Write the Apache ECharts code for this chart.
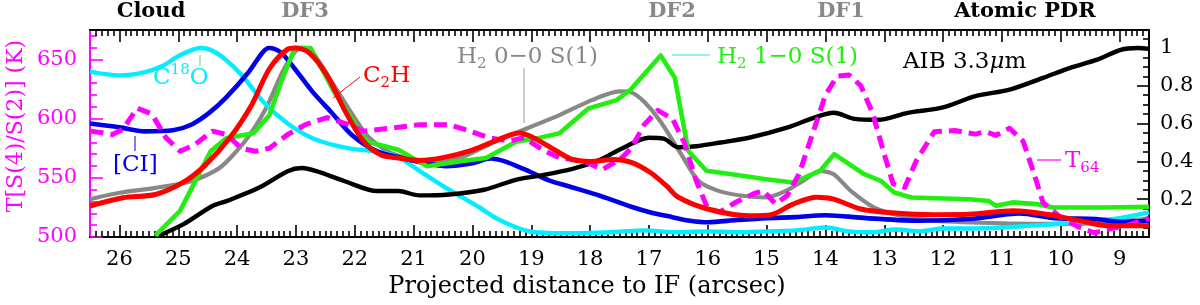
<!DOCTYPE html>
<html><head><meta charset="utf-8">
<script src="https://cdn.jsdelivr.net/npm/echarts@6/dist/echarts.min.js"></script>
<style>html,body{margin:0;padding:0;background:#fff}#c{width:1200px;height:305px}</style>
</head><body><div id="c"></div>
<script>
// ---- tick labels ----
const xTickLabels = [26,25,24,23,22,21,20,19,18,17,16,15,14,13,12,11,10,9];
const leftTickLabels = [500,550,600,650];
const rightTickLabels = [0.2,0.4,0.6,0.8,1];

// ---- series (x in arcsec) ----
const c18oX = [26.5,26.0,25.6,25.27,24.95,24.62,24.45,24.24,23.93,23.54,23.14,22.7,22.12,21.6,21.25,20.9,20.4,19.9,19.6,19.25,19.0,18.5,18.0,17.5,17.1,16.5,16.0,15.5,15.0,14.5,14.0,13.6,13.2,12.8,12.4,12.0,11.5,11.0,10.5,10.0,9.5,9.0,8.5];
const c18oY = [0.875,0.855,0.87,0.905,0.965,1.0,0.99,0.95,0.86,0.71,0.6,0.52,0.47,0.45,0.42,0.35,0.25,0.16,0.1,0.05,0.028,0.02,0.022,0.028,0.035,0.025,0.03,0.025,0.03,0.035,0.05,0.03,0.025,0.04,0.03,0.045,0.045,0.05,0.06,0.07,0.085,0.1,0.13];

const ciX = [26.5,26.0,25.57,25.09,24.78,24.48,24.18,23.81,23.57,23.46,23.26,23.02,22.72,22.41,22.05,21.62,21.22,20.8,20.45,20.0,19.69,19.45,19.13,18.7,18.38,17.82,17.3,16.97,16.6,16.3,16.0,15.5,15.0,14.5,14.0,13.3,12.4,11.56,10.9,10.7,10.1,9.4,9.0,8.5];
const ciY = [0.6,0.58,0.559,0.565,0.594,0.655,0.74,0.87,0.975,1.0,0.977,0.89,0.769,0.664,0.54,0.453,0.42,0.39,0.375,0.39,0.415,0.4,0.36,0.3,0.27,0.217,0.16,0.13,0.105,0.086,0.078,0.09,0.1,0.105,0.115,0.1,0.086,0.095,0.12,0.125,0.1,0.095,0.08,0.086];

const c2hX = [26.5,25.94,25.39,24.91,24.54,24.11,23.75,23.45,23.14,23.02,22.78,22.47,22.17,21.86,21.56,21.26,20.9,20.5,20.0,19.6,19.2,18.9,18.6,18.3,18.0,17.6,17.3,16.97,16.7,16.5,16.0,15.3,14.9,14.55,14.15,13.86,13.4,12.94,12.14,11.56,10.8,10.24,9.67,9.2,8.5];
const c2hY = [0.164,0.208,0.225,0.29,0.38,0.53,0.7,0.89,0.994,1.0,0.976,0.855,0.67,0.51,0.435,0.418,0.405,0.42,0.46,0.51,0.55,0.515,0.46,0.41,0.4,0.41,0.395,0.34,0.27,0.21,0.148,0.112,0.12,0.174,0.21,0.2,0.148,0.13,0.118,0.12,0.139,0.12,0.086,0.06,0.06];

const h2_10X = [25.39,24.97,24.45,24.18,23.72,23.45,23.23,23.02,22.75,22.35,21.8,21.26,20.77,20.22,19.77,19.25,18.88,18.52,18.03,17.55,17.31,16.8,16.56,16.33,16.02,15.59,15.01,14.55,14.09,13.85,13.34,13.06,12.83,12.54,11.56,11.22,11.1,10.82,10.41,10.13,9.26,8.5];
const h2_10Y = [0.007,0.138,0.453,0.523,0.549,0.645,0.837,1.0,1.0,0.767,0.505,0.462,0.374,0.4,0.418,0.505,0.523,0.549,0.68,0.724,0.78,0.96,0.842,0.455,0.35,0.332,0.306,0.288,0.35,0.438,0.332,0.297,0.235,0.209,0.2,0.19,0.165,0.183,0.174,0.156,0.156,0.16];

const h2_00X = [26.5,26.0,25.39,24.78,24.3,23.87,23.51,23.2,22.92,22.75,22.35,21.8,21.44,21.13,20.83,20.22,19.61,19.07,18.52,17.97,17.5,17.3,17.08,16.8,16.45,16.16,15.82,15.41,15.01,14.67,14.38,14.09,13.86,13.57,13.17,12.71,12.14,10.99,9.84,9.26,8.98,8.5];
const h2_00Y = [0.2,0.234,0.26,0.295,0.365,0.505,0.68,0.89,1.0,0.99,0.8,0.54,0.453,0.418,0.4,0.418,0.505,0.575,0.645,0.724,0.77,0.765,0.715,0.61,0.437,0.297,0.244,0.218,0.209,0.244,0.297,0.35,0.332,0.244,0.156,0.112,0.086,0.072,0.069,0.077,0.086,0.095];

const aibX = [25.33,24.91,24.42,24.18,23.63,23.14,22.9,22.65,22.17,21.62,21.26,20.9,20.4,19.8,19.25,18.9,18.3,17.82,17.45,17.0,16.75,16.5,16.2,15.78,15.3,14.64,14.2,13.86,13.5,13.1,12.6,12.02,11.45,10.87,10.3,9.84,9.38,8.98,8.69,8.5];
const aibY = [0.007,0.068,0.164,0.19,0.26,0.348,0.365,0.348,0.295,0.243,0.243,0.22,0.225,0.25,0.304,0.322,0.36,0.41,0.47,0.525,0.52,0.475,0.48,0.5,0.525,0.58,0.63,0.657,0.625,0.62,0.657,0.684,0.745,0.78,0.842,0.895,0.938,0.99,1.0,0.995];

const t64X = [26.49,26.12,25.94,25.7,25.45,25.21,24.97,24.72,24.42,24.18,23.93,23.69,23.45,23.14,22.84,22.47,22.1,21.86,21.38,20.89,20.4,20.04,19.73,19.37,19.13,18.76,18.52,18.09,17.79,17.48,17.3,17.08,16.85,16.6,16.4,16.2,16.0,15.8,15.5,15.2,15.05,14.85,14.65,14.45,14.2,14.0,13.8,13.6,13.4,13.2,13.0,12.85,12.65,12.45,12.15,11.8,11.45,11.28,11.1,10.87,10.64,10.47,10.3,10.01,9.72,9.43,9.15,8.86,8.5];
const t64Y = [589.5,586.7,591,609,604,584,572.5,578,589.5,586.7,575,572.5,575,586.7,595,601,595,589.5,592,595,595,589.5,584,581,584,572.5,567,564,557,566,575,595,607,600,580,548,524,521,530,537,539,528,535,553,590,620,636,637,628,605,570,545,542,565,589,590,587,589,586,592,581,556,529,517,509,503.5,507,510,516];

// ---- build ----
const zip = (xs, ys) => xs.map((x, i) => [x, ys[i]]);
const FONT = 'DejaVu Serif';
const xMinor = []; for (let k = 86; k <= 264; k++) if (k % 10) xMinor.push(k / 10);
const leftMinor = []; for (let k = 510; k <= 670; k += 10) if (k % 50) leftMinor.push(k);
const rightMinor = []; for (let k = 1; k <= 21; k++) if (k % 4) rightMinor.push(+(k * 0.05).toFixed(2));

const XMIN = 8.5, XMAX = 26.5;
function xAxisDef(pos, ticks, len, labels) {
  return {
    type: 'value', position: pos, min: XMIN, max: XMAX, inverse: true,
    axisLine: { show: true, onZero: false, lineStyle: { color: '#000', width: 2 } },
    axisTick: { show: true, inside: true, length: len, customValues: ticks, lineStyle: { color: '#000', width: 1.6 } },
    axisLabel: labels ? { show: true, customValues: ticks, margin: 12, color: '#000', fontFamily: FONT, fontSize: 21 } : { show: false },
    splitLine: { show: false }
  };
}
function yAxisDef(pos, min, max, ticks, len, color, labels, margin) {
  return {
    type: 'value', position: pos, min: min, max: max,
    axisLine: { show: true, onZero: false, lineStyle: { color: color, width: 2 } },
    axisTick: { show: true, inside: true, length: len, customValues: ticks, lineStyle: { color: color, width: 1.6 } },
    axisLabel: labels ? { show: true, customValues: ticks, margin: margin, color: color, fontFamily: FONT, fontSize: 21 } : { show: false },
    splitLine: { show: false }
  };
}

function line(name, data, color, width, yIdx, smooth, dashed) {
  return {
    name: name, type: 'line', data: data, xAxisIndex: 0, yAxisIndex: yIdx,
    symbol: 'none', smooth: smooth,
    lineStyle: { color: color, width: width, type: dashed ? [13, 7] : 'solid', cap: 'butt', join: 'round' },
    silent: true
  };
}

function txt(x, y, text, fill, size, opts) {
  return {
    type: 'text', x: x, y: y, z: 100,
    style: Object.assign({ text: text, fill: fill, fontFamily: FONT, fontSize: size, align: 'left', verticalAlign: 'middle' }, opts || {})
  };
}
function seg(x1, y1, x2, y2, color, w) {
  return { type: 'line', z: 100, shape: { x1: x1, y1: y1, x2: x2, y2: y2 }, style: { stroke: color, lineWidth: w || 1 } };
}

const MAG = '#ff00ff', CYAN = '#00eeff', BLUE = '#0000e8', RED = '#ff0000', GREEN = '#22ee11', GRAY = '#888888';
const sub = (c, s) => ({ fill: c, fontFamily: FONT, fontSize: s, verticalAlign: 'bottom' });
const sup = (c, s) => ({ fill: c, fontFamily: FONT, fontSize: s, verticalAlign: 'top' });

const option = {
  animation: false,
  backgroundColor: '#fff',
  grid: { left: 90, right: 51, top: 30, bottom: 68, containLabel: false },
  xAxis: [
    xAxisDef('bottom', xTickLabels, 12, true),
    xAxisDef('bottom', xMinor, 6, false),
    xAxisDef('top', xTickLabels, 12, false),
    xAxisDef('top', xMinor, 6, false)
  ],
  yAxis: [
    yAxisDef('left', 500, 675, leftTickLabels, 13, MAG, true, 13),
    yAxisDef('left', 500, 675, leftMinor, 7, MAG, false),
    yAxisDef('right', 0, 1.095, rightTickLabels, 12, '#000', true, 11),
    yAxisDef('right', 0, 1.095, rightMinor, 6, '#000', false)
  ],
  series: [
    line('H2 0-0 S(1)', zip(h2_00X, h2_00Y), GRAY, 4.2, 2, 0.25, false),
    line('C18O', zip(c18oX, c18oY), CYAN, 4.4, 2, 0.3, false),
    line('[CI]', zip(ciX, ciY), BLUE, 4.6, 2, 0.3, false),
    line('AIB 3.3um', zip(aibX, aibY), '#000', 4.4, 2, 0.3, false),
    line('H2 1-0 S(1)', zip(h2_10X, h2_10Y), GREEN, 4.6, 2, false, false),
    line('T64', zip(t64X, t64Y), MAG, 5, 0, false, true),
    line('C2H', zip(c2hX, c2hY), RED, 5, 2, 0.3, false)
  ],
  graphic: [
    txt(151, 12, 'Cloud', '#000', 21, { fontWeight: 'bold', align: 'center' }),
    txt(305, 12, 'DF3', GRAY, 21, { fontWeight: 'bold', align: 'center' }),
    txt(672, 12, 'DF2', GRAY, 21, { fontWeight: 'bold', align: 'center' }),
    txt(841, 12, 'DF1', GRAY, 21, { fontWeight: 'bold', align: 'center' }),
    txt(1025, 12, 'Atomic PDR', '#000', 21, { fontWeight: 'bold', align: 'center' }),
    txt(587, 287, 'Projected distance to IF (arcsec)', '#000', 24, { align: 'center' }),
    { type: 'text', x: 16, y: 126, rotation: Math.PI / 2, z: 100,
      style: { text: 'T[S(4)/S(2)] (K)', fill: MAG, fontFamily: FONT, fontSize: 22, align: 'center', verticalAlign: 'middle' } },
    txt(153, 78, 'C{p|18}O', CYAN, 23, { lineHeight: 30, rich: { p: sup(CYAN, 15) } }),
    seg(200, 55, 200, 66, '#7fe07f', 1.2),
    txt(113, 165, '[CI]', BLUE, 23),
    seg(135, 136, 135, 151, BLUE, 1),
    txt(363, 76, 'C{s|2}H', RED, 23, { lineHeight: 30, rich: { s: sub(RED, 15) } }),
    seg(333, 98, 360, 77, RED, 1),
    txt(457, 57, 'H{s|2} 0\u22120 S(1)', GRAY, 23, { lineHeight: 30, rich: { s: sub(GRAY, 15) } }),
    seg(524, 68, 524, 123, '#aaaaaa', 1.2),
    txt(717, 57, 'H{s|2} 1\u22120 S(1)', GREEN, 23, { lineHeight: 30, rich: { s: sub(GREEN, 15) } }),
    seg(672, 55, 710, 55, '#33ddee', 1.2),
    txt(903, 62, 'AIB 3.3{i|\u03bc}m', '#000', 23, { rich: { i: { fill: '#000', fontFamily: FONT, fontSize: 23, fontStyle: 'italic' } } }),
    txt(1065, 161, 'T{s|64}', MAG, 23, { lineHeight: 30, rich: { s: sub(MAG, 15) } }),
    seg(1037, 160, 1061, 160, MAG, 1.2)
  ]
};
const chart = echarts.init(document.getElementById('c'), null, { renderer: 'canvas' });
chart.setOption(option);
</script>
</body></html>
